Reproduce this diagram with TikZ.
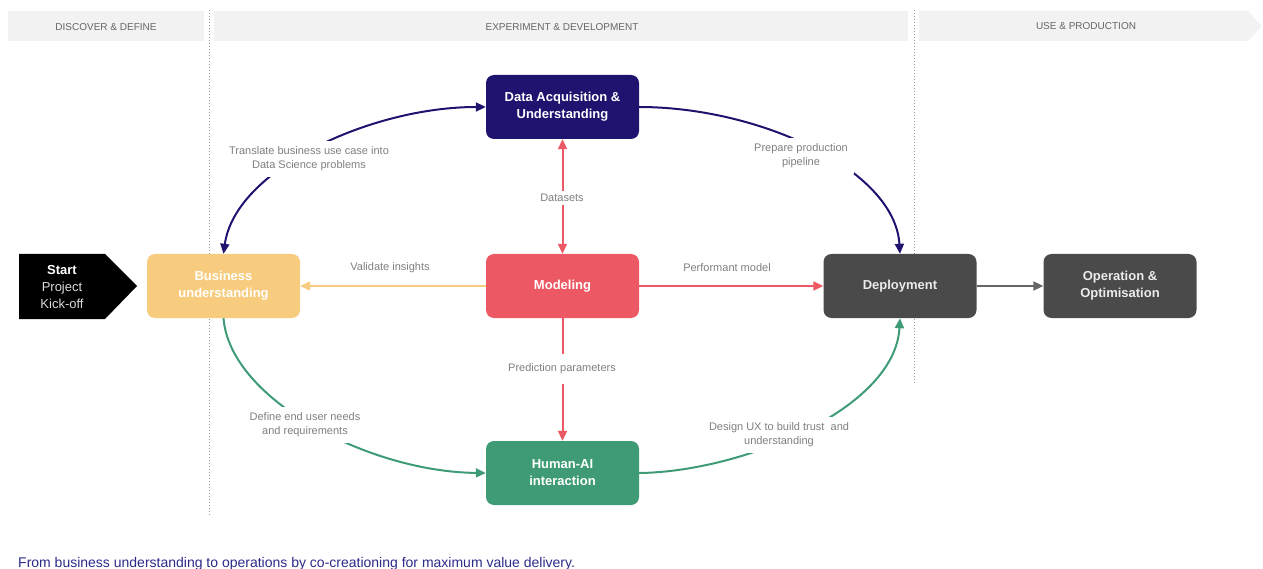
\documentclass[tikz,border=0pt]{standalone}
\usepackage{fontspec}
\setmainfont{Liberation Sans}
\usetikzlibrary{arrows.meta}

\definecolor{navy}{HTML}{1E1470}
\definecolor{coral}{HTML}{EC5863}
\definecolor{sand}{HTML}{F7CC7E}
\definecolor{jade}{HTML}{3F9B76}
\definecolor{slate}{HTML}{4A4A4A}
\definecolor{fog}{HTML}{F2F2F2}
\definecolor{ink}{HTML}{2C2A88}

\tikzstyle{etapa}= [rectangle,rounded corners=8pt,minimum width=153pt,minimum height=64pt,align=center,font=\fontsize{13}{17}\selectfont\bfseries,text=white]
\tikzstyle{nota}= [align=center,fill=white,text=black!50,font=\fontsize{11}{14}\selectfont,inner sep=6pt]
\tikzstyle{fase}= [text=black!60,font=\fontsize{10}{12}\selectfont]
\tikzstyle{flecha}= [line width=2pt,-{Triangle[length=10pt,width=9pt]}]
\tikzstyle{dobleflecha}= [line width=2pt,{Triangle[length=10pt,width=9pt]}-{Triangle[length=10pt,width=9pt]}]

\begin{document}
\begin{tikzpicture}[x=1pt,y=-1pt]
		\useasboundingbox (0,0) rectangle (1263,569);

		% fases
		\fill[fog] (8,11) rectangle (204,41);
		\fill[fog] (214,11) rectangle (908,41);
		\fill[fog] (919,11) -- (1248,11) -- (1262,26) -- (1248,41) -- (919,41) -- cycle;
		\node (f1) at (106,27) [fase] {DISCOVER \& DEFINE};
		\node (f2) at (562,27) [fase] {EXPERIMENT \& DEVELOPMENT};
		\node (f3) at (1086,26) [fase] {USE \& PRODUCTION};
		\draw[black!40,dotted,line width=1pt] (209,10) -- (209,515);
		\draw[black!40,dotted,line width=1pt] (914,10) -- (914,385);

		% inicio
		\fill[black] (19,254) -- (105,254) -- (137,286) -- (105,319) -- (19,319) -- cycle;
		\node (st) at (62,287) [align=center,font=\fontsize{13}{17}\selectfont,text=black!15] {\textcolor{white}{\bfseries Start}\\Project\\Kick-off};

		% etapas
		\node (bu) at (223.5,286) [etapa,fill=sand] {Business\\understanding};
		\node (da) at (562.5,107) [etapa,fill=navy] {Data Acquisition \&\\Understanding};
		\node (mo) at (562.5,286) [etapa,fill=coral] {Modeling};
		\node (hai) at (562.5,473) [etapa,fill=jade] {Human-AI\\interaction};
		\node (dep) at (900,286) [etapa,fill=slate,text=black!8] {Deployment};
		\node (op) at (1120,286) [etapa,fill=slate,text=black!8] {Operation \&\\Optimisation};

		\draw[navy,dobleflecha] (bu.north) .. controls (235,170) and (370,107) .. (da.west);
		\draw[navy,flecha] (da.east) .. controls (760,107) and (895,170) .. (dep.north);
		\path[coral,dobleflecha] (da.south) edge[] node {} (mo.north);
		\path[sand,flecha] (mo.west) edge[] node {} (bu.east);
		\path[coral,flecha] (mo.east) edge[] node {} (dep.west);
		\path[coral,flecha] (mo.south) edge[] node {} (hai.north);
		\draw[jade,flecha] (bu.south) .. controls (230,400) and (370,472) .. (hai.west);
		\draw[jade,flecha] (hai.east) .. controls (740,472) and (895,410) .. (dep.south);
		\path[black!60,flecha] (dep.east) edge[] node {} (op.west);

		% notas
		\node (l1) at (309,159) [nota] {Translate business use case into\\Data Science problems};
		\node (l2) at (801,156) [nota] {Prepare production\\pipeline};
		\node (l3) at (562,198) [nota,inner sep=3pt] {Datasets};
		\node (l4) at (390,268) [nota,inner sep=2pt] {Validate insights};
		\node (l5) at (727,268) [nota,inner sep=2pt] {Performant model};
		\node (l6) at (562,369) [nota,inner ysep=10pt] {Prediction parameters};
		\node (l7) at (305,425) [nota] {Define end user needs\\and requirements};
		\node (l8) at (779,435) [nota] {Design UX to build trust\ \ and\\understanding};

		\node (pie) at (18,567) [anchor=base west,inner sep=0pt,text=ink,font=\fontsize{14}{16}\selectfont] {From business understanding to operations by co-creationing for maximum value delivery.};
\end{tikzpicture}
\end{document}
